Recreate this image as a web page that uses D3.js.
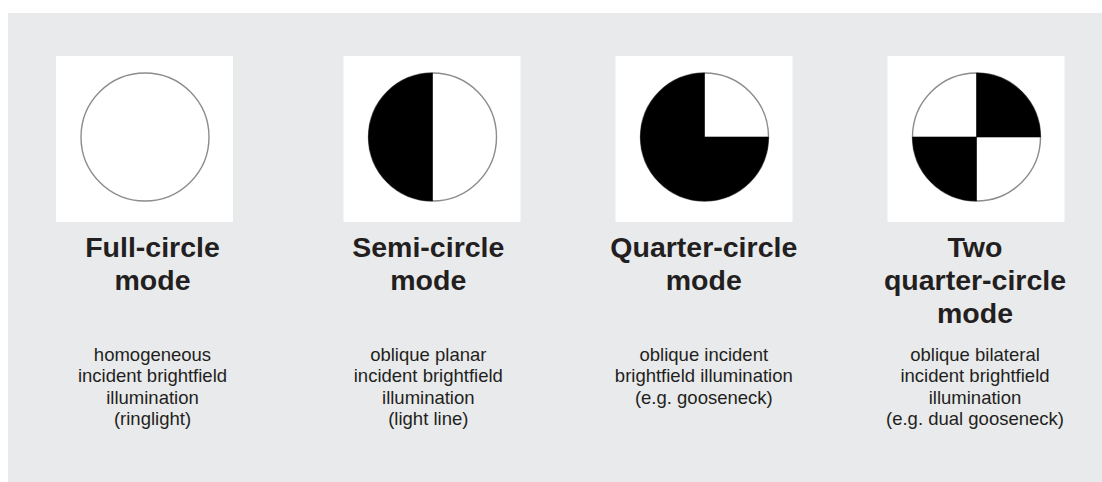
<!DOCTYPE html>
<html lang="en">
<head>
<meta charset="UTF-8">
<script src="https://d3js.org/d3.v7.min.js"></script>
<title>Illumination modes</title>
<style>
  body { margin: 0; background: #fff; }
  svg { display: block; }
</style>
</head>
<body>
<div id="container"></div>
<script>
// mode names, title lines, description lines, and which quadrants are dark
// quadrants: 0 = top-right, 1 = bottom-right, 2 = bottom-left, 3 = top-left
const modes = ["full", "semi", "quarter", "twoQuarter"];
const titleLines = [
    ["Full-circle", "mode"],
    ["Semi-circle", "mode"],
    ["Quarter-circle", "mode"],
    ["Two", "quarter-circle", "mode"]
];
const descLines = [
    ["homogeneous", "incident brightfield", "illumination", "(ringlight)"],
    ["oblique planar", "incident brightfield", "illumination", "(light line)"],
    ["oblique incident", "brightfield illumination", "(e.g. gooseneck)"],
    ["oblique bilateral", "incident brightfield", "illumination", "(e.g. dual gooseneck)"]
];
const darkQuadrants = [[], [2, 3], [1, 2, 3], [0, 2]];

const w = 1102, h = 482;

const svg = d3.select("#container")
    .append("svg")
    .attr("width", w)
    .attr("height", h);

// grey panel
svg.append("rect")
    .attr("x", 8).attr("y", 13)
    .attr("width", w - 8).attr("height", h - 13)
    .attr("fill", "#e9eaec");

// panel positions
const iconX = d3.scaleOrdinal().domain(modes).range([144.5, 432, 704, 976]);
const textX = d3.scaleOrdinal().domain(modes).range([152.5, 428.3, 703.8, 975]);

const boxW = 177, boxH = 166, boxTop = 56;
const r = 64, cy = 137;
const titleTop = 256.7, titleStep = 33.3;
const descStep = 21.5;

const arc = d3.arc().innerRadius(0).outerRadius(r);

// join neighbouring quadrants into one sector so no seams show
function sectors(qs) {
    const out = [];
    qs.forEach(q => {
        const last = out[out.length - 1];
        if (last && last.end === q) last.end = q + 1;
        else out.push({ start: q, end: q + 1 });
    });
    return out;
}

const panels = svg.selectAll("g.panel")
    .data(modes)
    .enter()
    .append("g")
    .attr("class", "panel");

panels.append("rect")
    .attr("x", d => iconX(d) - boxW / 2)
    .attr("y", boxTop)
    .attr("width", boxW)
    .attr("height", boxH)
    .attr("fill", "#fff");

panels.append("circle")
    .attr("cx", d => iconX(d) + 0.5)
    .attr("cy", cy)
    .attr("r", r)
    .attr("fill", "#fff")
    .attr("stroke", "#8c8c8c")
    .attr("stroke-width", 1.4);

panels.each(function (d, i) {
    const g = d3.select(this);
    g.selectAll("path")
        .data(sectors(darkQuadrants[i]))
        .enter()
        .append("path")
        .attr("transform", "translate(" + (iconX(d) + 0.5) + "," + cy + ")")
        .attr("d", s => arc({ startAngle: s.start * Math.PI / 2, endAngle: s.end * Math.PI / 2 }))
        .attr("fill", "#000")
        .attr("stroke", "#000")
        .attr("stroke-width", 0.6);

    const title = g.append("text")
        .attr("text-anchor", "middle")
        .style("font-family", "'Liberation Sans', Arial, sans-serif")
        .style("font-weight", "bold")
        .style("font-size", "28.5px")
        .style("fill", "#231f20");
    title.selectAll("tspan")
        .data(titleLines[i])
        .enter()
        .append("tspan")
        .attr("x", textX(d))
        .attr("y", (t, j) => titleTop + j * titleStep)
        .text(t => t);

    const lastTitle = titleTop + (titleLines[i].length - 1) * titleStep;
    const descTop = Math.max(360.7, lastTitle + 35);

    const desc = g.append("text")
        .attr("text-anchor", "middle")
        .style("font-family", "'Liberation Sans', Arial, sans-serif")
        .style("font-size", "18.5px")
        .style("fill", "#231f20");
    desc.selectAll("tspan")
        .data(descLines[i])
        .enter()
        .append("tspan")
        .attr("x", textX(d))
        .attr("y", (t, j) => descTop + j * descStep)
        .text(t => t);
});
</script>
</body>
</html>
